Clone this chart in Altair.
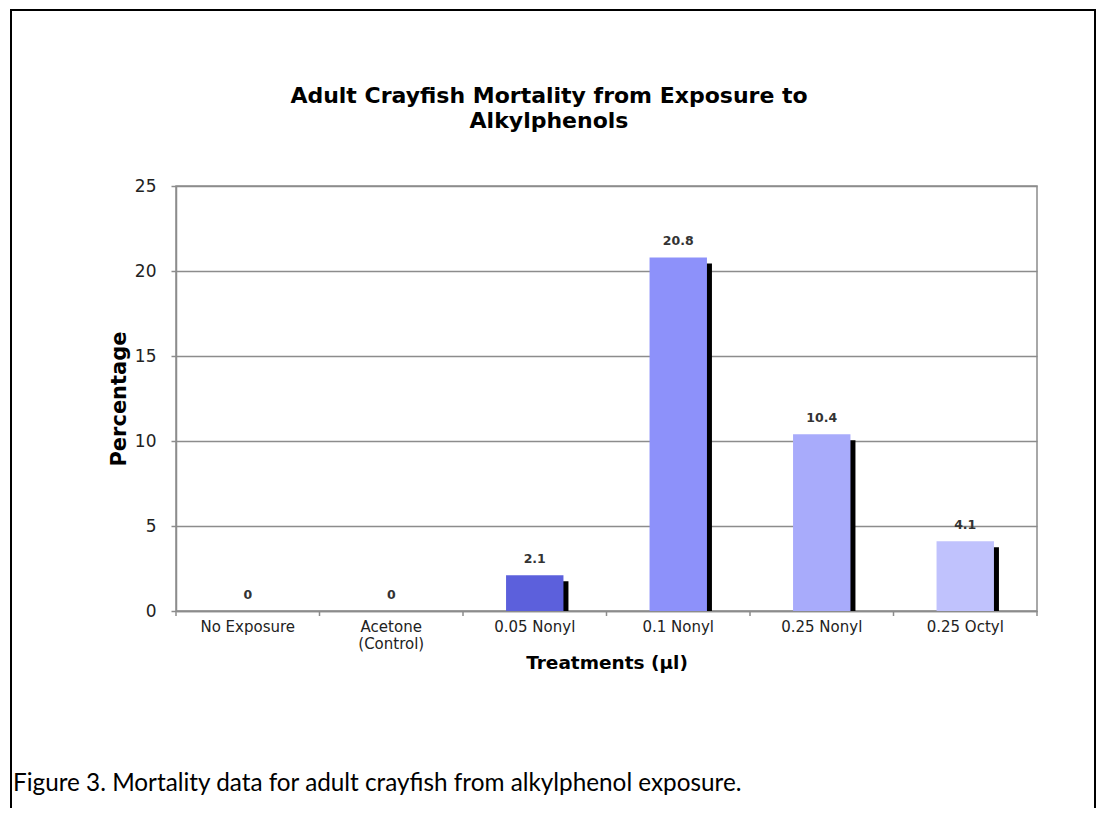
import altair as alt
import pandas as pd

categories = ["No Exposure", "Acetone (Control)", "0.05 Nonyl", "0.1 Nonyl", "0.25 Nonyl", "0.25 Octyl"]
values = [0, 0, 2.1, 20.8, 10.4, 4.1]
value_labels = ["0", "0", "2.1", "20.8", "10.4", "4.1"]
bar_colors = ["#5C60DC", "#5C60DC", "#5C60DC", "#8D91FA", "#A8ABFB", "#C0C2FD"]
y_ticks = [0, 5, 10, 15, 20, 25]

title_lines = ["Adult Crayfish Mortality from Exposure to", "Alkylphenols"]
caption = "Figure 3. Mortality data for adult crayfish from alkylphenol exposure."

df = pd.DataFrame({"Treatment": categories, "Percentage": values,
                   "Label": value_labels, "Color": bar_colors})

W, H = 861, 425
GRID = "#8c8c8c"

x_axis = alt.Axis(
    title="Treatments (µl)", labelAngle=0, ticks=False, tickSize=0,
    labelPadding=8, labelFont="DejaVu Sans", labelFontSize=15,
    labelColor="#222222", labelLineHeight=17,
    labelExpr="datum.value == 'Acetone (Control)' ? ['Acetone', '(Control)'] : datum.label",
    titleFont="DejaVu Sans", titleFontSize=18.5, titleFontWeight="bold",
    titleColor="#000000", titlePadding=2,
    domainColor=GRID, domainWidth=1.5, grid=False,
)
x_scale = alt.Scale(paddingInner=0, paddingOuter=0)
x_enc = alt.X("Treatment:N", sort=categories, scale=x_scale, axis=x_axis)
y_enc = alt.Y(
    "Percentage:Q",
    scale=alt.Scale(domain=[0, 25], nice=False),
    axis=alt.Axis(
        title="Percentage", values=y_ticks, grid=True, gridColor=GRID, gridWidth=1.5,
        tickColor=GRID, tickSize=5, tickWidth=1.5, labelPadding=15,
        labelFont="DejaVu Sans", labelFontSize=17, labelColor="#222222",
        titleFont="DejaVu Sans", titleFontSize=21, titleFontWeight="bold",
        titleColor="#000000", titlePadding=5,
        domainColor=GRID, domainWidth=1.5,
    ),
)

base = alt.Chart(df)

shadow = base.transform_filter("datum.Percentage > 0").mark_bar(
    color="#000000", xOffset=5, yOffset=6, width=alt.RelativeBandSize(0.4), clip=True
).encode(x=x_enc, y=y_enc)

bars = base.mark_bar(width=alt.RelativeBandSize(0.4)).encode(
    x=x_enc, y=y_enc, color=alt.Color("Color:N", scale=None)
)

texts = base.mark_text(
    baseline="bottom", dy=-9, font="DejaVu Sans", fontSize=12.5,
    fontWeight="bold", color="#333333"
).encode(x=x_enc, y=y_enc, text="Label:N")

xticks = base.mark_rule(color=GRID, strokeWidth=1.5).encode(
    x=alt.X("Treatment:N", sort=categories, scale=x_scale, axis=x_axis, bandPosition=0),
    y=alt.value(H), y2=alt.value(H + 5),
)
xtick_end = base.transform_filter(
    alt.datum.Treatment == categories[-1]
).mark_rule(color=GRID, strokeWidth=1.5).encode(
    x=alt.X("Treatment:N", sort=categories, scale=x_scale, axis=x_axis, bandPosition=1),
    y=alt.value(H), y2=alt.value(H + 5),
)

deco = pd.DataFrame({"t": ["\n".join(title_lines)], "c": [caption]})

frame = alt.Chart(deco).mark_rect(
    fill=None, stroke="#000000", strokeWidth=2, clip=False
).encode(
    x=alt.value(-165), x2=alt.value(919), y=alt.value(-176), y2=alt.value(700)
)

title = alt.Chart(deco).mark_text(
    font="DejaVu Sans", fontSize=22, fontWeight="bold", color="#000000",
    align="center", baseline="middle", lineBreak="\n", lineHeight=25
).encode(x=alt.value(373), y=alt.value(-90), text="t:N")

cap = alt.Chart(deco).mark_text(
    font="Lato", fontSize=24.3, color="#000000", align="left", baseline="middle"
).encode(x=alt.value(-163), y=alt.value(598), text="c:N")

chart = alt.layer(frame, shadow, bars, texts, xticks, xtick_end, title, cap).properties(
    width=W, height=H,
    autosize=alt.AutoSizeParams(type="none"),
    padding={"left": 168, "top": 178, "right": 59, "bottom": 197},
    background="#ffffff",
).configure_view(stroke=GRID, strokeWidth=1.5)

chart.save("out.html", embed_options={"renderer": "svg", "actions": False})
